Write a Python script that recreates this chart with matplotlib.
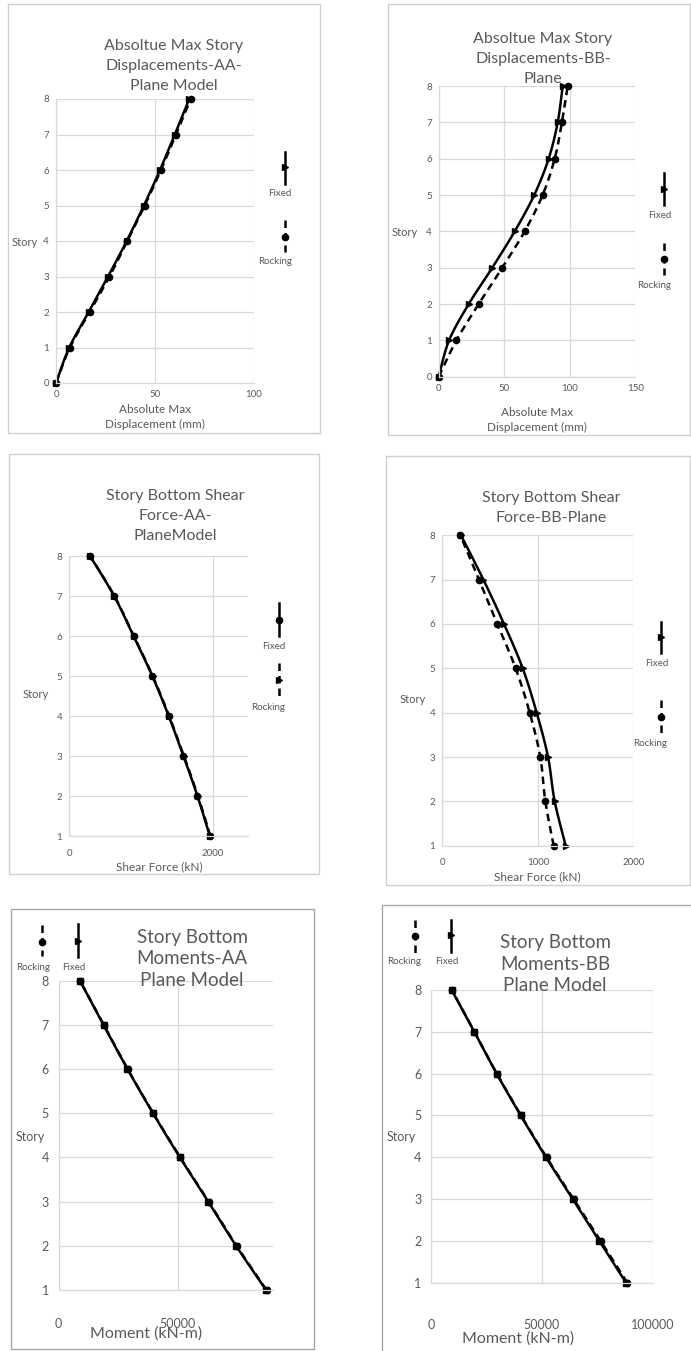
import numpy as np
import matplotlib.pyplot as plt
from matplotlib.lines import Line2D
from matplotlib.patches import Rectangle

plt.rcParams['font.family'] = ['Lato', 'DejaVu Sans']

W, H = 691, 1351
GRIS = '#595959'
REJILLA = '#d9d9d9'

# Pisos
pisos_0 = [0, 1, 2, 3, 4, 5, 6, 7, 8]
pisos_1 = [1, 2, 3, 4, 5, 6, 7, 8]

# Desplazamientos maximos absolutos (mm)
desp_aa_fixed = [0, 6.7, 16.5, 26.3, 35.7, 44.4, 52.5, 60.0, 67.3]
desp_aa_rocking = [0, 7.0, 17.0, 27.0, 36.0, 44.8, 53.0, 60.6, 68.0]
desp_bb_fixed = [0, 7.9, 22.9, 40.9, 58.0, 72.9, 83.9, 90.8, 94.6]
desp_bb_rocking = [0, 13.5, 30.5, 48.5, 65.6, 79.3, 88.5, 94.0, 98.4]

# Cortante en la base de cada piso (kN)
corte_aa_fixed = [1963, 1790, 1594, 1388, 1159, 897, 626, 290]
corte_aa_rocking = [1970, 1796, 1600, 1394, 1164, 901, 630, 292]
corte_bb_fixed = [1292, 1177, 1107, 988, 842, 646, 430, 196]
corte_bb_rocking = [1166, 1079, 1026, 915, 768, 576, 384, 189]

# Momento en la base de cada piso (kN-m)
mom_aa_fixed = [86950, 74400, 62700, 50840, 39550, 28850, 18800, 8900]
mom_aa_rocking = [87150, 74600, 62900, 51000, 39650, 28950, 18900, 8950]
mom_bb_fixed = [87960, 75920, 63910, 51870, 40460, 29630, 19530, 9330]
mom_bb_rocking = [88500, 76500, 64300, 52100, 40600, 29700, 19600, 9400]

fig = plt.figure(figsize=(W / 100, H / 100), dpi=100)


def caja(x0, y0, x1, y1):
    return [x0 / W, 1 - y1 / H, (x1 - x0) / W, (y1 - y0) / H]


def texto(x, y, s, size, **kw):
    fig.text(x / W, 1 - y / H, s, fontsize=size, color=GRIS,
             ha='center', va='center', **kw)


def marco(x0, y0, x1, y1, color='#d0d0d0'):
    fig.add_artist(Rectangle((x0 / W, 1 - y1 / H), (x1 - x0) / W, (y1 - y0) / H,
                             fill=False, ec=color, lw=1.0, transform=fig.transFigure))


def suave(x, y, n=16):
    # curva tipo Catmull-Rom como la linea suavizada de Excel
    p = np.column_stack([x, y]).astype(float)
    p = np.vstack([p[0], p, p[-1]])
    t = np.linspace(0, 1, n)[:, None]
    out = []
    for i in range(1, len(p) - 2):
        p0, p1, p2, p3 = p[i - 1], p[i], p[i + 1], p[i + 2]
        seg = 0.5 * ((2 * p1) + (-p0 + p2) * t + (2 * p0 - 5 * p1 + 4 * p2 - p3) * t ** 2
                     + (-p0 + 3 * p1 - 3 * p2 + p3) * t ** 3)
        out.append(seg)
    out = np.vstack(out)
    return out[:, 0], out[:, 1]


def muestra(x, y0, y1, ym, estilo, marcador, etiqueta, xt, yt):
    fig.add_artist(Line2D([x / W, x / W], [1 - y0 / H, 1 - y1 / H], color='k',
                          lw=1.8, ls=estilo, dashes=(3, 2) if estilo == '--' else (None, None)))
    fig.add_artist(Line2D([x / W], [1 - ym / H], marker=marcador, color='k', ms=4.5))
    texto(xt, yt, etiqueta, 7)


def panel(pos, xlim, xticks, ylim, series, pad_x, pad_y, tick_size):
    ax = fig.add_axes(caja(*pos))
    for x, y, ls, mk in series:
        xs, ys = suave(x, y)
        if ls == '--':
            ax.plot(xs, ys, color='k', lw=1.8, dashes=(3, 2), clip_on=False)
        else:
            ax.plot(xs, ys, color='k', lw=1.8, clip_on=False)
        ax.plot(x, y, ls='none', marker=mk, color='k', ms=4.5, clip_on=False)
    ax.set_xlim(xlim)
    ax.set_ylim(ylim)
    ax.set_xticks(xticks)
    ax.set_yticks(range(ylim[0], ylim[1] + 1))
    ax.grid(color=REJILLA, lw=0.9)
    ax.set_axisbelow(True)
    for s in ['top', 'right']:
        ax.spines[s].set_visible(False)
    for s in ['left', 'bottom']:
        ax.spines[s].set_color(REJILLA)
        ax.spines[s].set_linewidth(0.9)
    ax.tick_params(length=0, colors=GRIS, labelsize=tick_size)
    ax.tick_params(axis='x', pad=pad_x)
    ax.tick_params(axis='y', pad=pad_y)
    return ax


# Grafica 1: desplazamientos AA
marco(8, 4, 320, 433)
panel((56, 99, 254, 383), (0, 100), [0, 50, 100], (0, 8),
      [(desp_aa_rocking, pisos_0, '--', 'o'), (desp_aa_fixed, pisos_0, '-', '>')],
      5, 5, 7)
texto(174, 66, 'Absoltue Max Story\nDisplacements-AA-\nPlane Model', 11.5, linespacing=1.55)
texto(25, 243, 'Story', 8)
texto(155, 417, 'Absolute Max\nDisplacement (mm)', 8.5, linespacing=1.45)
muestra(285, 152, 184, 167, '-', '>', 'Fixed', 280, 194)
muestra(285, 220, 252, 237, '--', 'o', 'Rocking', 275, 262)

# Grafica 2: desplazamientos BB
marco(388, 4, 690, 435)
panel((438.7, 86, 635.3, 376.7), (0, 150), [0, 50, 100, 150], (0, 8),
      [(desp_bb_rocking, pisos_0, '--', 'o'), (desp_bb_fixed, pisos_0, '-', '>')],
      5, 5, 7)
texto(543, 59, 'Absoltue Max Story\nDisplacements-BB-\nPlane', 11.5, linespacing=1.55)
texto(405, 232, 'Story', 8)
texto(537, 420, 'Absolute Max\nDisplacement (mm)', 8.5, linespacing=1.45)
muestra(664, 173, 205, 189, '-', '>', 'Fixed', 660, 216)
muestra(664, 243, 275, 259, '--', 'o', 'Rocking', 654, 285)

# Grafica 3: cortante AA
marco(9, 454, 319, 874)
panel((69.3, 556, 248.3, 836), (0, 2500), [0, 2000], (1, 8),
      [(corte_aa_rocking, pisos_1, '--', '>'), (corte_aa_fixed, pisos_1, '-', 'o')],
      9, 5, 7)
texto(175, 516, 'Story Bottom Shear\nForce-AA-\nPlaneModel', 11.5, linespacing=1.55)
texto(36, 694, 'Story', 8)
texto(159, 867, 'Shear Force (kN)', 8.5)
muestra(279, 603, 636, 620, '-', 'o', 'Fixed', 274, 646)
muestra(279, 663, 697, 680, '--', '>', 'Rocking', 268, 707)

# Grafica 4: cortante BB
marco(386, 456, 690, 885)
panel((442.3, 535.3, 633.3, 845.7), (0, 2000), [0, 1000, 2000], (1, 8),
      [(corte_bb_rocking, pisos_1, '--', 'o'), (corte_bb_fixed, pisos_1, '-', '>')],
      9, 5, 7)
texto(551, 508, 'Story Bottom Shear\nForce-BB-Plane', 11.5, linespacing=1.55)
texto(413, 700, 'Story', 8)
texto(537, 877, 'Shear Force (kN)', 8.5)
muestra(661, 622, 653, 637, '-', '>', 'Fixed', 657, 664)
muestra(661, 700, 733, 717, '--', 'o', 'Rocking', 650, 743)

# Grafica 5: momentos AA
marco(11, 909, 314, 1349, color='#a6a6a6')
panel((58.7, 980.7, 273.3, 1290), (0, 90000), [0, 50000], (1, 8),
      [(mom_aa_rocking, pisos_1, '--', 'o'), (mom_aa_fixed, pisos_1, '-', 's')],
      20, 7, 9)
texto(192, 959, 'Story Bottom\nMoments-AA\nPlane Model', 13.5, linespacing=1.35)
texto(30, 1137, 'Story', 9)
texto(146, 1334, 'Moment (kN-m)', 11.5)
muestra(42, 925, 956, 942, '--', 'o', 'Rocking', 33, 968)
muestra(78, 924, 957, 941, '-', '>', 'Fixed', 74, 968)

# Grafica 6: momentos BB
marco(381.7, 905, 700, 1360, color='#a6a6a6')
panel((431, 990, 652.7, 1282.7), (0, 100000), [0, 50000, 100000], (1, 8),
      [(mom_bb_rocking, pisos_1, '--', 'o'), (mom_bb_fixed, pisos_1, '-', 's')],
      26, 7, 9)
texto(555, 964, 'Story Bottom\nMoments-BB\nPlane Model', 13.5, linespacing=1.35)
texto(401, 1137, 'Story', 9)
texto(518, 1339, 'Moment (kN-m)', 11.5)
muestra(415, 920, 953, 936, '--', 'o', 'Rocking', 404, 962)
muestra(451, 920, 952, 935, '-', '>', 'Fixed', 447, 962)

fig.savefig('out.png', dpi=100)
